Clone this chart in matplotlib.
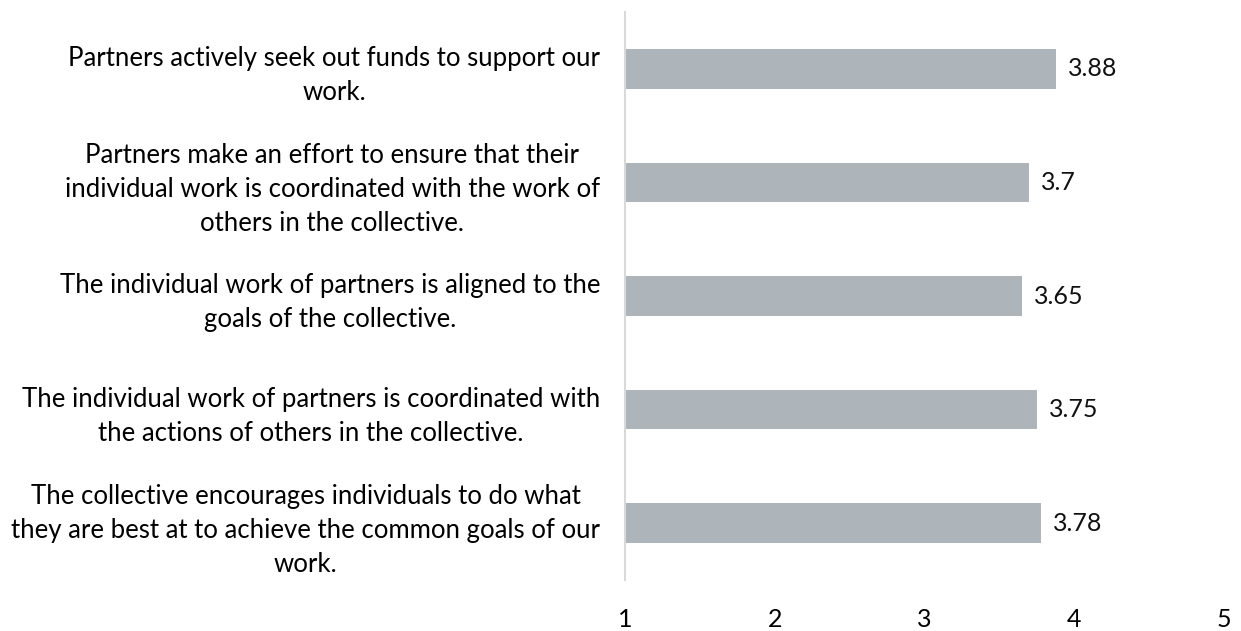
import numpy as np
import matplotlib.pyplot as plt

plt.rcParams['font.family'] = ['Lato', 'DejaVu Sans']

labels = [
    "Partners actively seek out funds to support our\nwork.",
    "Partners make an effort to ensure that their\nindividual work is coordinated with the work of\nothers in the collective.",
    "The individual work of partners is aligned to the\ngoals of the collective.",
    "The individual work of partners is coordinated with\nthe actions of others in the collective.",
    "The collective encourages individuals to do what\nthey are best at to achieve the common goals of our\nwork.",
]
scores = [3.88, 3.7, 3.65, 3.75, 3.78]
xticks = [1, 2, 3, 4, 5]

fig = plt.figure(figsize=(12.41, 6.31), dpi=100)
ax = fig.add_axes([625/1241, 1 - 580/631, (1224 - 625)/1241, 568/631])

ypos = np.arange(len(labels))
ax.barh(ypos, np.array(scores) - 1, left=1, height=0.35, color='#adb5ba')
for y, v in zip(ypos, scores):
    ax.text(v + 0.08, y, "{:g}".format(v), va='center', ha='left', fontsize=18, color='#111111')

ax.set_xlim(1, 5)
ax.set_ylim(len(labels) - 0.5, -0.5)
ax.set_xticks(xticks)
ax.set_xticklabels([str(t) for t in xticks], fontsize=18)
ax.set_yticks(ypos)
ax.set_yticklabels(labels, fontsize=18.5, linespacing=1.45)
for lab in ax.get_yticklabels():
    lab.set_multialignment('center')

for s in ['top', 'right', 'bottom']:
    ax.spines[s].set_visible(False)
ax.spines['left'].set_color('#d9d9d9')
ax.spines['left'].set_linewidth(1.5)
ax.tick_params(axis='x', length=0, pad=20)
ax.tick_params(axis='y', length=0, pad=18)

fig.savefig('out.png', dpi=100)
